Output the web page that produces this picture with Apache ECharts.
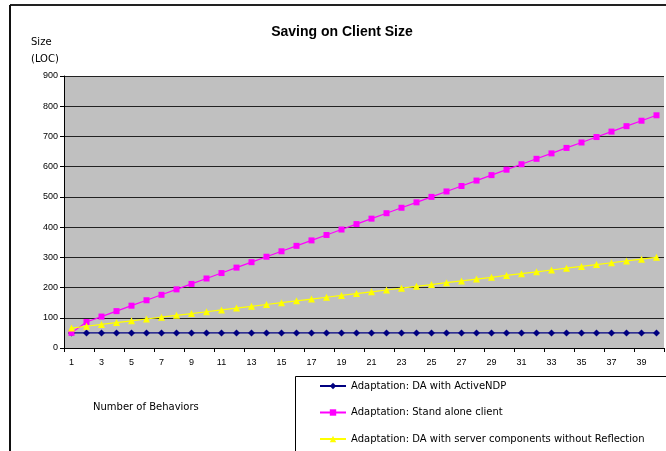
<!DOCTYPE html>
<html>
<head>
<meta charset="utf-8">
<style>
  html, body { margin: 0; padding: 0; background: #ffffff; }
  #chart { width: 666px; height: 451px; }
</style>
<script src="https://cdn.jsdelivr.net/npm/echarts@6/dist/echarts.min.js"></script>
</head>
<body>
<div id="chart"></div>
<script>
// Number of behaviors on the x axis
const behaviors = [1,2,3,4,5,6,7,8,9,10,11,12,13,14,15,16,17,18,19,20,
                   21,22,23,24,25,26,27,28,29,30,31,32,33,34,35,36,37,38,39,40];

// Client size (LOC) per adaptation approach
const activeNdp = [50,50,50,50,50,50,50,50,50,50,50,50,50,50,50,50,50,50,50,50,
                   50,50,50,50,50,50,50,50,50,50,50,50,50,50,50,50,50,50,50,50];
const standAlone = [50,86,104,122,140,158,176,194,212,230,248,266,284,302,320,338,356,374,392,410,
                    428,446,464,482,500,518,536,554,572,590,608,626,644,662,680,698,716,734,752,770];
const serverNoReflection = [66,72,78,84,90,96,102,108,114,120,126,132,138,144,150,156,162,168,174,180,
                            186,192,198,204,210,216,222,228,234,240,246,252,258,264,270,276,282,288,294,300];

const seriesNames = [
  'Adaptation: DA with ActiveNDP',
  'Adaptation: Stand alone client',
  'Adaptation: DA with server components without Reflection'
];

const FONT = '"Liberation Sans", Arial, sans-serif';
const WIDE = '"DejaVu Sans", Verdana, sans-serif';

const chart = echarts.init(document.getElementById('chart'), null, { renderer: 'canvas' });

chart.setOption({
  animation: false,
  backgroundColor: '#ffffff',
  title: {
    text: 'Saving on Client Size',
    left: 337,
    top: 20,
    textAlign: 'center',
    textStyle: { fontFamily: FONT, fontSize: 14, fontWeight: 'bold', color: '#000000' }
  },
  grid: {
    left: 64, right: 2, top: 76, bottom: 103,
    show: true, backgroundColor: '#c0c0c0', borderWidth: 0
  },
  legend: {
    orient: 'vertical',
    left: 319,
    top: 381,
    padding: 0,
    itemWidth: 26,
    itemHeight: 8,
    itemGap: 16.5,
    textStyle: { fontFamily: WIDE, fontSize: 10, color: '#000000' },
    data: seriesNames
  },
  xAxis: {
    type: 'category',
    data: behaviors,
    boundaryGap: true,
    axisLine: { lineStyle: { color: '#000000', width: 1 } },
    axisTick: { show: true, length: 4, lineStyle: { color: '#000000' } },
    axisLabel: { interval: 1, fontFamily: FONT, fontSize: 9, color: '#000000', margin: 10 },
    splitLine: { show: false }
  },
  yAxis: {
    type: 'value',
    min: 0, max: 900, interval: 100,
    axisLine: { show: true, lineStyle: { color: '#000000', width: 1 } },
    axisTick: { show: true, length: 4, lineStyle: { color: '#000000' } },
    axisLabel: { fontFamily: FONT, fontSize: 9, color: '#000000', margin: 6 },
    splitLine: { show: true, lineStyle: { color: '#222222', width: 1 } }
  },
  series: [
    {
      name: seriesNames[0], type: 'line', data: activeNdp,
      symbol: 'diamond', symbolSize: 7,
      itemStyle: { color: '#000080' }, lineStyle: { color: '#000080', width: 1.2 }
    },
    {
      name: seriesNames[1], type: 'line', data: standAlone,
      symbol: 'rect', symbolSize: 6,
      itemStyle: { color: '#ff00ff' }, lineStyle: { color: '#ff00ff', width: 1.2 }
    },
    {
      name: seriesNames[2], type: 'line', data: serverNoReflection,
      symbol: 'triangle', symbolSize: 7,
      itemStyle: { color: '#ffff00' }, lineStyle: { color: '#ffff00', width: 1.2 }
    }
  ],
  graphic: [
    // outer frame (top and left edges)
    { type: 'line', shape: { x1: 10, y1: 5, x2: 666, y2: 5 }, style: { stroke: '#222222', lineWidth: 2 }, z: 10 },
    { type: 'line', shape: { x1: 10, y1: 5, x2: 10, y2: 451 }, style: { stroke: '#111111', lineWidth: 2 }, z: 10 },
    // legend box
    { type: 'rect', shape: { x: 295.5, y: 376.5, width: 400, height: 100 }, style: { fill: '#ffffff', stroke: '#000000', lineWidth: 1 }, z: 0 },
    // y-axis name
    { type: 'text', left: 31, top: 37, style: { text: 'Size', fontFamily: WIDE, fontSize: 10, fill: '#000000' } },
    { type: 'text', left: 31, top: 54, style: { text: '(LOC)', fontFamily: WIDE, fontSize: 10, fill: '#000000' } },
    // x-axis name
    { type: 'text', left: 93, top: 402, style: { text: 'Number of Behaviors', fontFamily: WIDE, fontSize: 10, fill: '#000000' } }
  ]
});
</script>
</body>
</html>
